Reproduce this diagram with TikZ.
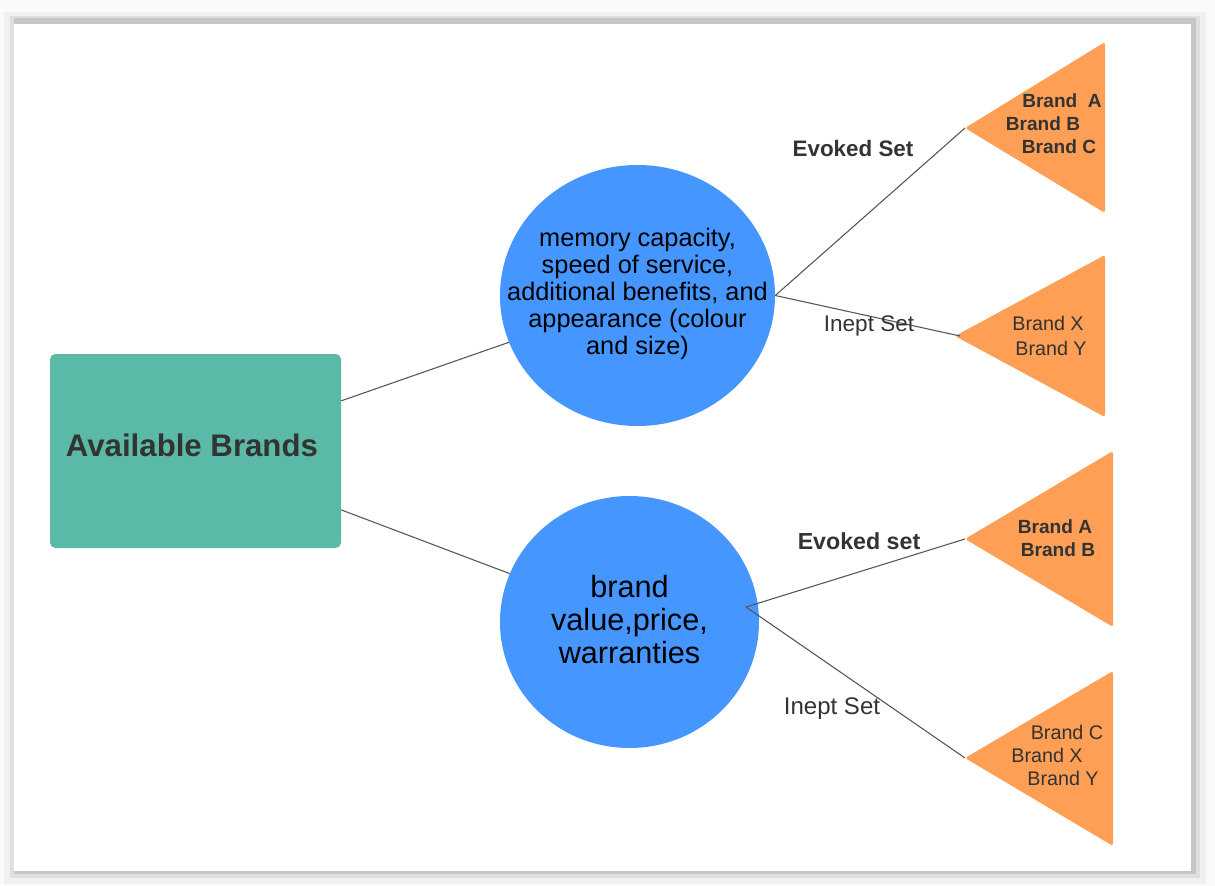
\documentclass[tikz,border=0pt]{standalone}
\usepackage{fontspec}
\setmainfont{Liberation Sans}
\usetikzlibrary{shapes.geometric,calc}
\definecolor{teal1}{HTML}{5BBAA7}
\definecolor{blue1}{HTML}{4596FF}
\definecolor{orange1}{HTML}{FF9F55}
\definecolor{txt}{HTML}{333333}
\definecolor{edge}{HTML}{555555}
\tikzset{
  conn/.style={draw=edge, line width=0.8pt},
  tri/.style={fill=orange1, rounded corners=2pt},
  circ/.style={ellipse, fill=blue1, inner sep=0pt, text=black, align=center},
  lbl/.style={text=txt, inner sep=0pt},
  tb/.style={text=txt, inner sep=0pt, font=\fontsize{14.3pt}{17pt}\selectfont\bfseries},
  tr/.style={text=txt, inner sep=0pt, font=\fontsize{14.8pt}{17pt}\selectfont},
}
\begin{document}
\begin{tikzpicture}[x=0.75pt,y=-0.75pt]
\useasboundingbox (0,0) rectangle (1215,886);
% frame / shadow
\fill[gray!4] (0,0) rectangle (1215,886);
\fill[gray!12] (4,12) rectangle (1206,884);
\fill[gray!25] (10,16) rectangle (1200,878);
\fill[gray!45] (14,18) rectangle (1196,874);
\fill[white] (14,24) rectangle (1191,871);

% main box
\node[fill=teal1, rounded corners=4pt, minimum width=218.25pt, minimum height=145.5pt, inner sep=0pt] (box) at (195.5,451) {};
\node[lbl, font=\fontsize{23.4pt}{28pt}\selectfont\bfseries] (boxt) at (192,445) {Available Brands};

% circles
\node[circ, minimum width=206.25pt, minimum height=195.75pt] (c1) at (637.5,295.5) {};
\node[align=center, inner sep=0pt, font=\fontsize{19pt}{20.25pt}\selectfont] (c1t) at (637.5,294)
  {memory capacity,\\speed of service,\\additional benefits, and\\appearance (colour\\and size)};
\node[circ, minimum width=194.25pt, minimum height=189pt] (c2) at (629.5,622) {};
\node[align=center, inner sep=0pt, font=\fontsize{23pt}{24.75pt}\selectfont] (c2t) at (629.5,620)
  {brand\\value,price,\\warranties};

% triangles
\coordinate (t1) at (965,128);
\coordinate (t2) at (955,336);
\coordinate (t3) at (965,539);
\coordinate (t4) at (965,758);
\fill[tri] (t1) -- (1105,42) -- (1105,213) -- cycle;
\fill[tri] (t2) -- (1105,255) -- (1105,417) -- cycle;
\fill[tri] (t3) -- (1113,451) -- (1113,627) -- cycle;
\fill[tri] (t4) -- (1113,671) -- (1113,846) -- cycle;

% junction point
\coordinate (j2) at (746,607);

% connectors
\draw[conn] (box.19.3) -- (c1.200);
\draw[conn] (box.338.3) -- (c2.158);
\draw[conn] (c1.east) -- (t1);
\draw[conn] (c1.east) -- ($(t2)+(5,0)$);
\draw[conn] (j2) -- (t3);
\draw[conn] (j2) -- (t4);

% edge labels
\node[lbl, font=\fontsize{16.8pt}{20pt}\selectfont\bfseries] (l1) at (853,148) {Evoked Set};
\node[lbl, font=\fontsize{16.9pt}{20pt}\selectfont] (l2) at (869,326) {Inept Set};
\node[lbl, font=\fontsize{17.4pt}{20pt}\selectfont\bfseries] (l3) at (859,541) {Evoked set};
\node[lbl, font=\fontsize{18pt}{20pt}\selectfont] (l4) at (832,709) {Inept Set};

% triangle texts
\node[tb] (a1) at (1062,101) {Brand\ \ A};
\node[tb] (a2) at (1043,124) {Brand B};
\node[tb] (a3) at (1059,147) {Brand C};
\node[tr] (b1) at (1048,323) {Brand X};
\node[tr] (b2) at (1051,348) {Brand Y};
\node[tb] (d1) at (1055,527) {Brand A};
\node[tb] (d2) at (1058,550) {Brand B};
\node[tr] (e1) at (1067,732) {Brand C};
\node[tr] (e2) at (1047,755) {Brand X};
\node[tr] (e3) at (1063,778) {Brand Y};
\end{tikzpicture}
\end{document}
